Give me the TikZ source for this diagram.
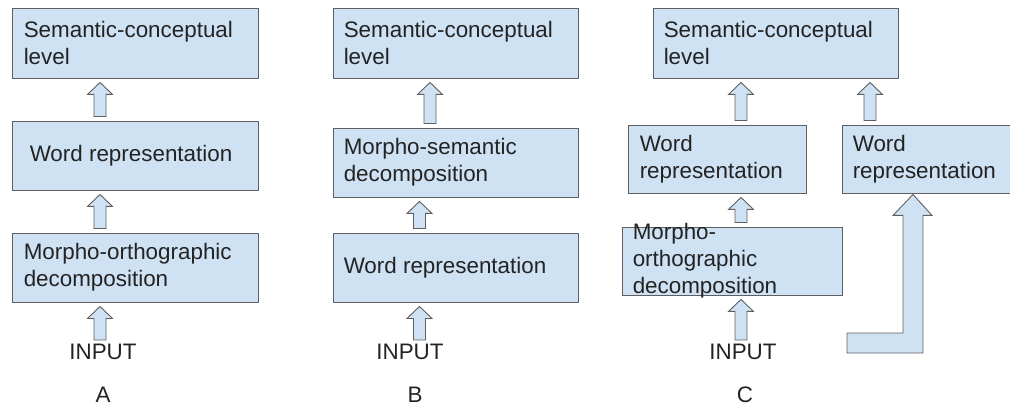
\documentclass[tikz,border=0pt]{standalone}
\usepackage{fontspec}
\setmainfont{Liberation Sans}
\usetikzlibrary{calc}

\definecolor{boxfill}{RGB}{207,226,243}
\definecolor{boxline}{RGB}{95,95,95}
\definecolor{txt}{RGB}{35,35,35}

\tikzset{
  lvl/.style={draw=boxline, fill=boxfill, line width=0.9pt, inner sep=0pt},
  lbl/.style={anchor=west, align=left, inner sep=0pt, text=txt,
    font=\fontsize{22.4}{27}\selectfont},
  blockarr/.style={draw=boxline, fill=boxfill, line width=0.9pt, line join=miter},
}

% hollow up arrow: x, lower anchor, upper anchor
\newcommand\blockup[3]{%
  \draw[blockarr] let \p1=(#2), \p2=(#3) in
    ({(#1-6)*1pt},\y1+4pt) -- ({(#1-6)*1pt},\y2-16pt)
    -- ({(#1-12.5)*1pt},\y2-16pt) -- ({#1*1pt},\y2-4pt)
    -- ({(#1+12.5)*1pt},\y2-16pt) -- ({(#1+6)*1pt},\y2-16pt)
    -- ({(#1+6)*1pt},\y1+4pt) -- cycle;}

\begin{document}
\begin{tikzpicture}[x=1pt, y=-1pt]
        \useasboundingbox (0,0) rectangle (1010,406);

        % A
        \node[lvl, minimum width=246pt, minimum height=70pt] (a1) at (135,43) {};
        \node[lvl, minimum width=246pt, minimum height=69pt] (a2) at (135,155.5) {};
        \node[lvl, minimum width=246pt, minimum height=69pt] (a3) at (135,267.5) {};
        \node[lbl] (a1t) at ($(a1.west)+(12,0)$) {Semantic-conceptual\\level};
        \node[lbl] (a2t) at ($(a2.west)+(18,0)$) {Word representation};
        \node[lbl] (a3t) at ($(a3.west)+(12,0)$) {Morpho-orthographic\\decomposition};
        \node[lbl, anchor=center] (inA) at (103,352) {INPUT};
        \node[lbl, anchor=center] (labA) at (103,395) {A};

        \blockup{100}{a2.north}{a1.south}
        \blockup{100}{a3.north}{a2.south}
        \blockup{100}{inA.north}{a3.south}

        % B
        \node[lvl, minimum width=245pt, minimum height=70pt] (b1) at (455.5,43) {};
        \node[lvl, minimum width=245pt, minimum height=69pt] (b2) at (455.5,162.5) {};
        \node[lvl, minimum width=245pt, minimum height=69pt] (b3) at (455.5,267.5) {};
        \node[lbl] (b1t) at ($(b1.west)+(11,0)$) {Semantic-conceptual\\level};
        \node[lbl] (b2t) at ($(b2.west)+(11,0)$) {Morpho-semantic\\decomposition};
        \node[lbl] (b3t) at ($(b3.west)+(11,0)$) {Word representation};
        \node[lbl, anchor=center] (inB) at (410,352) {INPUT};
        \node[lbl, anchor=center] (labB) at (415,395) {B};

        \blockup{430}{b2.north}{b1.south}
        \blockup{419.5}{b3.north}{b2.south}
        \blockup{419.5}{inB.north}{b3.south}

        % C
        \node[lvl, minimum width=245pt, minimum height=70pt] (c1) at (775.5,43) {};
        \node[lvl, minimum width=178pt, minimum height=68pt] (cL) at (717,159) {};
        \node[lvl, minimum width=172pt, minimum height=68pt] (cR) at (928,159) {};
        \node[lvl, minimum width=220pt, minimum height=68pt] (cM) at (732,261) {};
        \node[lbl] (c1t) at ($(c1.west)+(11,0)$) {Semantic-conceptual\\level};
        \node[lbl] (cLt) at ($(cL.west)+(12,0)$) {Word\\representation};
        \node[lbl] (cRt) at ($(cR.west)+(11,0)$) {Word\\representation};
        \node[lbl] (cMt) at ($(cM.west)+(11,0)$) {Morpho-\\orthographic\\decomposition};
        \node[lbl, anchor=center] (inC) at (743,352) {INPUT};
        \node[lbl, anchor=center] (labC) at (745,395) {C};

        \blockup{741}{cL.north}{c1.south}
        \blockup{870}{cR.north}{c1.south}
        \blockup{741}{cM.north}{cL.south}
        \blockup{741}{inC.north}{cM.south}

        % direct route
        \draw[blockarr] let \p1=(cR.south) in
            (913pt,\y1-1pt) -- (932pt,\y1-22pt) -- (923pt,\y1-22pt)
            -- (923,353) -- (847,353) -- (847,333) -- (903,333)
            -- (903pt,\y1-22pt) -- (893pt,\y1-22pt) -- cycle;
\end{tikzpicture}
\end{document}
